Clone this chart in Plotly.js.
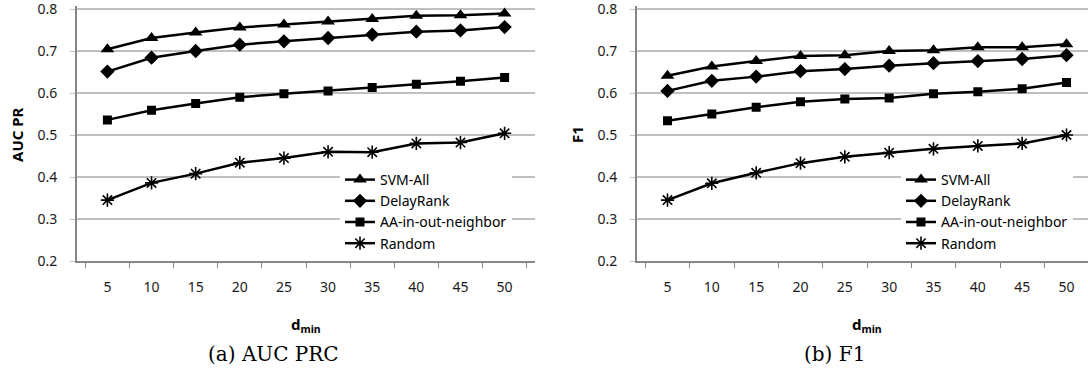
<!DOCTYPE html>
<html>
<head>
<meta charset="utf-8">
<script src="https://cdn.plot.ly/plotly-3.0.1.min.js"></script>
<style>
html,body{margin:0;padding:0;overflow:hidden;background:#fff;width:1088px;height:376px;}
#chart{width:1100px;height:376px;}
</style>
</head>
<body>
<div id="chart"></div>
<script>
const categories = ['5','10','15','20','25','30','35','40','45','50'];
const seriesNames = ['SVM-All','DelayRank','AA-in-out-neighbor','Random'];
const seriesSymbols = ['triangle-up','diamond','square','asterisk-open'];
const yTickValues = [0.2,0.3,0.4,0.5,0.6,0.7,0.8];
const yTickLabels = ['0.2','0.3','0.4','0.5','0.6','0.7','0.8'];

const aucSvmAll    = [0.704,0.731,0.744,0.756,0.763,0.770,0.776,0.784,0.785,0.789];
const aucDelayRank = [0.651,0.684,0.700,0.715,0.723,0.731,0.739,0.746,0.749,0.757];
const aucAA        = [0.536,0.559,0.575,0.590,0.598,0.605,0.613,0.621,0.628,0.637];
const aucRandom    = [0.345,0.386,0.408,0.434,0.445,0.460,0.459,0.480,0.482,0.504];

const f1SvmAll     = [0.641,0.663,0.676,0.688,0.690,0.700,0.702,0.709,0.709,0.716];
const f1DelayRank  = [0.605,0.629,0.639,0.652,0.657,0.665,0.671,0.676,0.681,0.690];
const f1AA         = [0.534,0.550,0.566,0.579,0.586,0.588,0.598,0.603,0.610,0.625];
const f1Random     = [0.345,0.385,0.410,0.433,0.448,0.458,0.467,0.474,0.480,0.500];

const W = 1100, H = 376;
const px = v => v / W;
const py = v => 1 - v / H;

const aucSeries = [aucSvmAll, aucDelayRank, aucAA, aucRandom];
const f1Series = [f1SvmAll, f1DelayRank, f1AA, f1Random];
const markerSizes = [12, 11, 9, 11];

const traces = [];
function addTraces(data, xa, ya, legendId) {
  data.forEach((vals, i) => {
    const sym = seriesSymbols[i];
    traces.push({
      type: 'scatter', mode: 'lines+markers',
      x: categories, y: vals, name: seriesNames[i],
      xaxis: xa, yaxis: ya, legend: legendId,
      line: {color: '#000', width: 2.5},
      marker: {symbol: sym, size: markerSizes[i], color: '#000',
               line: {color: '#000', width: sym.indexOf('asterisk') === 0 ? 1.6 : 0}}
    });
  });
}
addTraces(aucSeries, 'x', 'y', 'legend');
addTraces(f1Series, 'x2', 'y2', 'legend2');

const tickFont = {family: 'Noto Sans, sans-serif', size: 14, color: '#1a1a1a'};
const axisGray = '#868686';
const gridGray = '#c0c0c0';
const yTop = 0.806;               // small headroom so the 0.8 grid line is drawn
const pxPerUnit = 4200 / 1;       // 42 px per 0.1
const yDomain = [py(261), py(9 - (yTop - 0.8) * 420)];

function xAxis(domain, anchor) {
  return {domain: domain, anchor: anchor, type: 'category', tickson: 'boundaries',
    ticks: 'outside', ticklen: 5, tickwidth: 1, tickcolor: axisGray,
    showline: true, linecolor: axisGray, linewidth: 2, showgrid: false,
    tickfont: tickFont, ticklabelstandoff: 12, fixedrange: true};
}
function yAxis(domain, anchor) {
  return {domain: domain, anchor: anchor, range: [0.2, yTop],
    tickmode: 'array', tickvals: yTickValues, ticktext: yTickLabels,
    ticks: 'outside', ticklen: 5, tickwidth: 1, tickcolor: gridGray,
    showline: true, linecolor: axisGray, linewidth: 2, showgrid: true,
    gridcolor: gridGray, gridwidth: 1.2, zeroline: false, tickfont: tickFont,
    ticklabelstandoff: 10, ticklabeloverflow: 'allow', fixedrange: true};
}

const legendBase = {
  font: {family: 'Noto Sans, sans-serif', size: 14, color: '#000'},
  bgcolor: '#fff', borderwidth: 0, xanchor: 'left', yanchor: 'top',
  orientation: 'v', itemwidth: 30, tracegroupgap: 0
};

const annFontBold = {family: 'Noto Sans, sans-serif', size: 15, color: '#000'};
const capFont = {family: 'DejaVu Serif, serif', size: 20, color: '#000'};

const layout = {
  width: W, height: H,
  margin: {l: 0, r: 0, t: 0, b: 0},
  paper_bgcolor: '#fff', plot_bgcolor: '#fff',
  showlegend: true,
  xaxis: xAxis([px(77), px(535)], 'y'),
  yaxis: yAxis(yDomain, 'x'),
  xaxis2: xAxis([px(637), px(1097)], 'y2'),
  yaxis2: yAxis(yDomain, 'x2'),
  legend: Object.assign({}, legendBase, {x: px(340), y: py(164)}),
  legend2: Object.assign({}, legendBase, {x: px(901), y: py(164)}),
  annotations: [
    {text: '<b>AUC PR</b>', textangle: -90, x: px(17), y: py(135), xref: 'paper', yref: 'paper',
     showarrow: false, font: annFontBold, xanchor: 'center', yanchor: 'middle'},
    {text: '<b>F1</b>', textangle: -90, x: px(577), y: py(135), xref: 'paper', yref: 'paper',
     showarrow: false, font: annFontBold, xanchor: 'center', yanchor: 'middle'},
    {text: '<b>d<sub>min</sub></b>', x: px(306), y: py(325), xref: 'paper', yref: 'paper',
     showarrow: false, font: annFontBold, xanchor: 'center', yanchor: 'middle'},
    {text: '<b>d<sub>min</sub></b>', x: px(867), y: py(325), xref: 'paper', yref: 'paper',
     showarrow: false, font: annFontBold, xanchor: 'center', yanchor: 'middle'},
    {text: '(a) AUC PRC', x: px(273), y: py(354), xref: 'paper', yref: 'paper',
     showarrow: false, font: capFont, xanchor: 'center', yanchor: 'middle'},
    {text: '(b) F1', x: px(834), y: py(354), xref: 'paper', yref: 'paper',
     showarrow: false, font: capFont, xanchor: 'center', yanchor: 'middle'}
  ]
};

Plotly.newPlot('chart', traces, layout, {staticPlot: true, displayModeBar: false});
</script>
</body>
</html>
